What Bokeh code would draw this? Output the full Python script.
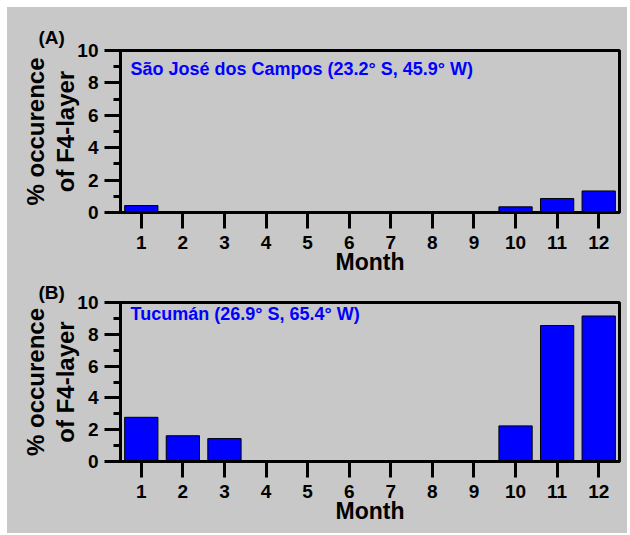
from bokeh.plotting import figure
from bokeh.layouts import column
from bokeh.models import Label, FixedTicker, ColumnDataSource, Range1d, LinearAxis
from bokeh.embed import file_html
from bokeh.resources import INLINE

months = [1, 2, 3, 4, 5, 6, 7, 8, 9, 10, 11, 12]
occ_sjc = [0.43, 0, 0, 0, 0, 0, 0, 0, 0, 0.35, 0.86, 1.33]
occ_tuc = [2.78, 1.62, 1.44, 0, 0, 0, 0, 0, 0, 2.24, 8.55, 9.15]
y_ticks = [0, 2, 4, 6, 8, 10]
y_minor = [1, 3, 5, 7, 9]
station_a = "São José dos Campos (23.2° S, 45.9° W)"
station_b = "Tucumán (26.9° S, 65.4° W)"
panel_a = "(A)"
panel_b = "(B)"
x_title = "Month"
y_title_1 = "% occurence"
y_title_2 = "of F4-layer"

BG = "#c8c8c8"
FONT = "Liberation Sans"


def style_title(ax, size):
    ax.axis_label_text_font = FONT
    ax.axis_label_text_font_style = "bold"
    ax.axis_label_text_color = "black"
    ax.axis_label_text_font_size = size


def make_panel(vals, station, tag, height, top, bottom, st_y, title_standoff):
    p = figure(width=620, height=height, output_backend="svg", toolbar_location=None,
               x_range=Range1d(0.5, 12.5), y_range=Range1d(0, 10),
               min_border_left=113, min_border_right=8,
               min_border_top=top, min_border_bottom=bottom,
               title=tag)
    p.background_fill_color = BG
    p.border_fill_color = BG
    p.outline_line_color = "black"
    p.outline_line_width = 3
    p.xgrid.visible = False
    p.ygrid.visible = False

    p.title.align = "left"
    p.title.offset = -82
    p.title.standoff = title_standoff
    p.title.text_font = FONT
    p.title.text_font_style = "bold"
    p.title.text_font_size = "19px"
    p.title.text_color = "black"

    xs = [m for m, v in zip(months, vals) if v > 0]
    ys = [v for v in vals if v > 0]
    src = ColumnDataSource(dict(x=xs, top=ys))
    p.vbar(x="x", top="top", bottom=0, width=0.8, source=src,
           fill_color="#0000ff", line_color="black", line_width=1)

    for ax in (p.xaxis[0], p.yaxis[0]):
        ax.axis_line_width = 3
        ax.axis_line_color = "black"
        ax.major_tick_line_width = 3
        ax.minor_tick_line_width = 3
        ax.major_tick_line_color = "black"
        ax.minor_tick_line_color = "black"
        ax.major_tick_in = 0
        ax.major_tick_out = 16
        ax.minor_tick_in = 0
        ax.minor_tick_out = 7
        ax.major_label_text_font = FONT
        ax.major_label_text_font_style = "bold"
        ax.major_label_text_font_size = "19px"
        ax.major_label_text_color = "black"
    xa = p.xaxis[0]
    ya = p.yaxis[0]
    xa.ticker = FixedTicker(ticks=months, minor_ticks=[])
    ya.ticker = FixedTicker(ticks=y_ticks, minor_ticks=y_minor)
    xa.major_label_standoff = 7
    ya.major_label_standoff = 6
    xa.axis_label = x_title
    style_title(xa, "23px")
    xa.axis_label_standoff = -3
    ya.axis_label = y_title_2
    style_title(ya, "24px")
    ya.axis_label_standoff = -5

    # outer line of the two-line y title
    ya2 = LinearAxis(ticker=FixedTicker(ticks=[], minor_ticks=[]),
                     axis_line_color=None, major_tick_out=0, major_tick_in=0,
                     minor_tick_out=0, minor_tick_in=0,
                     major_label_text_font_size="0px", major_label_standoff=0,
                     axis_label=y_title_1, axis_label_standoff=1)
    style_title(ya2, "24px")
    p.add_layout(ya2, "left")

    p.add_layout(Label(x=10, y=st_y, text=station, text_color="#0000ff",
                       text_font_size="18px", text_align="left",
                       text_baseline="middle", x_units="screen", y_units="screen",
                       text_font=FONT, text_font_style="bold"))
    return p


pa = make_panel(occ_sjc, station_a, panel_a, 272, 43, 67, 144, 6)
pb = make_panel(occ_tuc, station_b, panel_b, 254, 21, 72, 148, 0)

layout = column(pa, pb, spacing=0, margin=(7, 0, 0, 7),
                styles={"background-color": BG})
open("out.html", "w").write(file_html(layout, INLINE))
